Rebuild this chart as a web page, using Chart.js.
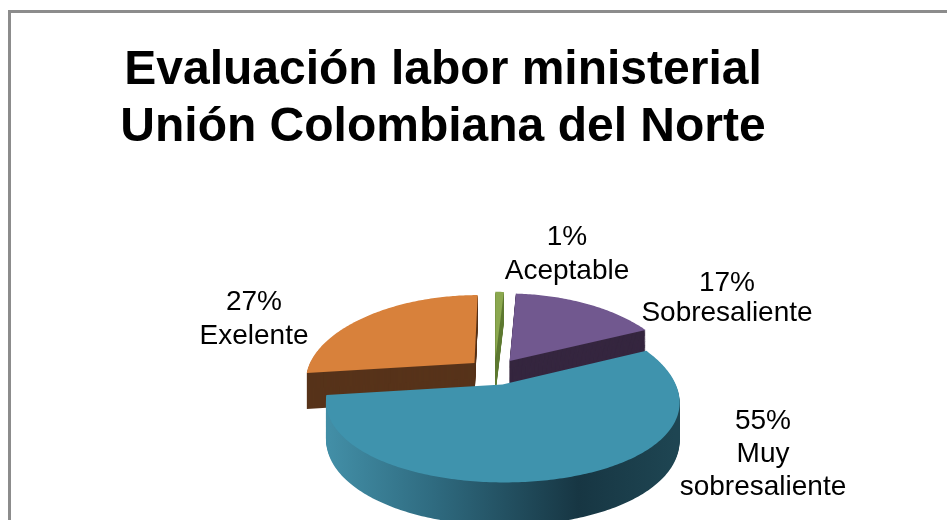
<!DOCTYPE html>
<html>
<head>
<meta charset="utf-8">
<style>
  html, body { margin: 0; padding: 0; background: #fff; overflow: hidden; }
  #marco { position: absolute; left: 8px; top: 10px; width: 2000px; height: 1000px; border: 3px solid #8c8c8c; }
  #grafico { position: absolute; left: 0; top: 0; }
</style>
<script src="https://cdn.jsdelivr.net/npm/chart.js@4"></script>
</head>
<body>
<div id="marco"></div>
<canvas id="grafico" width="886" height="520"></canvas>
<script>
const categorias = ["Aceptable", "Sobresaliente", ["Muy", "sobresaliente"], "Exelente"];
const porcentajes = [1, 17, 55, 27];
const titulo = ["Evaluación labor ministerial", "Unión Colombiana del Norte"];

const coloresCara = ["#8ba84f", "#71588f", "#3f93ad", "#d8813b"];
const coloresLado = ["#5f7a33", "#35263f", "#1f4351", "#57331a"];

// donde va cada etiqueta: centro x, y del primer renglon, salto de renglon
const posEtiquetas = [
  [567, 237, 34],
  [727, 283, 30],
  [763, 421, 33],
  [254, 302, 34]
];

// camara de la torta 3D
const cam = { x0: 494.6, y0: 371.6, ax: 168, ay: 80, dx: 5.15, dy: 7, alto: 36, separa: 0.163 };

function proyectar(u, v, h) {
  const sx = 1 / (1 - v / cam.dx);
  const sy = 1 / (1 - v / cam.dy);
  return [cam.x0 + cam.ax * u * sx, cam.y0 + cam.ay * v * sy + h * sy];
}

function contorno(arc) {
  const medio = (arc.startAngle + arc.endAngle) / 2;
  const u0 = Math.cos(medio) * cam.separa;
  const v0 = Math.sin(medio) * cam.separa;
  const puntos = [[u0, v0]];
  const pasos = Math.max(4, Math.ceil((arc.endAngle - arc.startAngle) / 0.015));
  for (let i = 0; i <= pasos; i++) {
    const a = arc.startAngle + (arc.endAngle - arc.startAngle) * i / pasos;
    puntos.push([u0 + Math.cos(a), v0 + Math.sin(a)]);
  }
  return puntos;
}

function rellenar(ctx, puntos, h, color) {
  ctx.beginPath();
  puntos.forEach((p, i) => {
    const [x, y] = proyectar(p[0], p[1], h);
    if (i === 0) ctx.moveTo(x, y); else ctx.lineTo(x, y);
  });
  ctx.closePath();
  ctx.fillStyle = color;
  ctx.fill();
}

const torta3d = {
  id: "torta3d",
  beforeDatasetsDraw(chart) {
    const ctx = chart.ctx;
    const arcos = chart.getDatasetMeta(0).data;

    // degradado del borde azul
    const grad = ctx.createLinearGradient(330, 0, 675, 0);
    grad.addColorStop(0, "#428ea6");
    grad.addColorStop(0.3, "#2f6b80");
    grad.addColorStop(0.72, "#173643");
    grad.addColorStop(1, "#1e4552");

    // de atras hacia adelante
    const orden = arcos.map((a, i) => i).sort((a, b) => {
      const ma = (arcos[a].startAngle + arcos[a].endAngle) / 2;
      const mb = (arcos[b].startAngle + arcos[b].endAngle) / 2;
      return Math.sin(ma) - Math.sin(mb);
    });
    orden.forEach(i => {
      const puntos = contorno(arcos[i]);
      const lado = i === 2 ? grad : coloresLado[i];
      for (let h = cam.alto; h > 0; h--) rellenar(ctx, puntos, h, lado);
      rellenar(ctx, puntos, 0, coloresCara[i]);
    });
    return false;
  },
  afterDraw(chart) {
    const ctx = chart.ctx;
    ctx.save();
    ctx.font = "28px 'Liberation Sans', Arial, sans-serif";
    ctx.fillStyle = "#000";
    ctx.textAlign = "center";
    ctx.textBaseline = "middle";
    chart.data.labels.forEach((etiqueta, i) => {
      const renglones = [porcentajes[i] + "%"].concat(etiqueta);
      const [x, y, salto] = posEtiquetas[i];
      renglones.forEach((t, j) => ctx.fillText(t, x, y + j * salto));
    });
    ctx.restore();
  }
};

new Chart(document.getElementById("grafico"), {
  type: "pie",
  data: {
    labels: categorias,
    datasets: [{ data: porcentajes, backgroundColor: coloresCara, borderWidth: 0 }]
  },
  options: {
    responsive: false,
    animation: false,
    plugins: {
      legend: { display: false },
      tooltip: { enabled: false },
      title: {
        display: true,
        text: titulo,
        color: "#000",
        font: { family: "'Liberation Sans', Arial, sans-serif", size: 48, weight: "bold", lineHeight: 1.19 },
        padding: { top: 42, bottom: 10 }
      }
    }
  },
  plugins: [torta3d]
});
</script>
</body>
</html>
